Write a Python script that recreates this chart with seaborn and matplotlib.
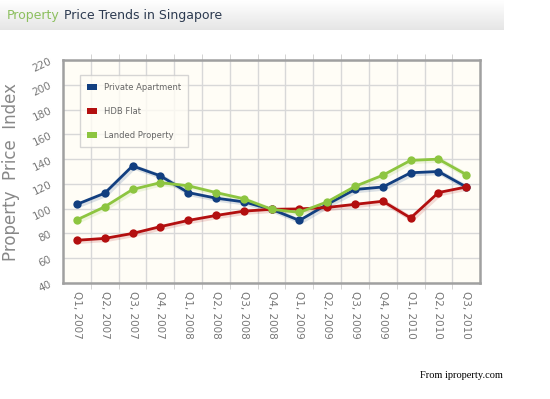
import numpy as np
import pandas as pd
import seaborn as sns
import matplotlib.pyplot as plt
from matplotlib.patches import Patch

# quarters on the x axis
quarters = ['Q1, 2007', 'Q2, 2007', 'Q3, 2007', 'Q4, 2007',
            'Q1, 2008', 'Q2, 2008', 'Q3, 2008', 'Q4, 2008',
            'Q1, 2009', 'Q2, 2009', 'Q3, 2009', 'Q4, 2009',
            'Q1, 2010', 'Q2, 2010', 'Q3, 2010']

private_apartment = [103.5, 112.5, 134.5, 126.5, 113, 108.5, 105.5, 99.5,
                     90.5, 103.5, 115.5, 117.5, 129, 130, 117.5]
hdb_flat = [74.5, 76, 80, 85.5, 90.5, 94.5, 98, 99.5,
            99.8, 101, 103.5, 106, 92.5, 113, 117.5]
landed_property = [91, 101.5, 115.5, 121, 118.5, 113, 108, 99.5,
                   97, 105.5, 118, 127, 139, 140, 127.5]

series_names = ['Private Apartment', 'HDB Flat', 'Landed Property']
colors = ['#123f80', '#b30f0f', '#8dc540']

df = pd.DataFrame({'quarter': quarters * 3,
                   'pos': list(range(len(quarters))) * 3,
                   'index': private_apartment + hdb_flat + landed_property,
                   'series': np.repeat(series_names, len(quarters))})

sns.set_style('white')
plt.rcParams['font.family'] = ['DejaVu Sans']

fig = plt.figure(figsize=(5.5, 3.99), dpi=100)
fig.patch.set_facecolor('white')

# header bar: white fading to light grey
hdr = fig.add_axes([0, 0.925, 0.915, 0.075])
shade = np.linspace(1.0, 0.9, 50)
grad = np.dstack([shade, shade, shade]).reshape(50, 1, 3)
hdr.imshow(grad, aspect='auto', extent=[0, 1, 0, 1])
hdr.set_axis_off()

t1 = fig.text(0.012, 0.96, 'Property', color='#8cbf5e', fontsize=9, va='center')
fig.canvas.draw()
bb = t1.get_window_extent().transformed(fig.transFigure.inverted())
fig.text(bb.x1 + 0.008, 0.96, 'Price Trends in Singapore', color='#2c3a50',
         fontsize=9, va='center')

ax = fig.add_axes([0.1145, 0.2907, 0.7585, 0.5589])
ax.set_facecolor('#fffdf6')

# soft shadow under each line
for name, c in zip(series_names, colors):
    sub = df[df['series'] == name]
    ax.plot(sub['pos'] + 0.06, sub['index'] - 1.0, color=c, alpha=0.15, lw=3.5, zorder=2)

sns.lineplot(data=df, x='pos', y='index', hue='series', palette=colors,
             marker='o', markersize=6, markeredgewidth=0, lw=2, ax=ax,
             legend=False, zorder=3)

ax.set_xlim(-0.5, len(quarters) - 0.5)
ax.set_ylim(40, 220)
ax.set_xticks(range(len(quarters)))
ax.set_xticklabels(quarters, rotation=-90, fontsize=7.5, color='#777777')
ax.set_xticks(np.arange(0.5, len(quarters) - 0.5, 1), minor=True)
ax.set_yticks(range(40, 221, 20))
ax.set_yticklabels([str(v) for v in range(40, 221, 20)], rotation=25,
                   fontsize=7.5, color='#777777')
ax.tick_params(axis='x', which='major', length=0, pad=6)
ax.tick_params(axis='x', which='minor', length=4, color='#cccccc', top=True, bottom=True)
ax.tick_params(axis='y', which='major', length=4, color='#cccccc', pad=3)
ax.grid(True, which='minor', axis='x', color='#d8d8d8', lw=1)
ax.grid(True, which='major', axis='y', color='#d8d8d8', lw=1)
ax.set_axisbelow(True)
for s in ax.spines.values():
    s.set_color('#a0a0a0')
    s.set_linewidth(1.8)

ax.set_xlabel('')
ax.set_ylabel('Property  Price  Index', fontsize=12, color='#888888', labelpad=8)

handles = [Patch(facecolor=c, edgecolor='none') for c in colors]
leg = ax.legend(handles, series_names, loc='upper left', bbox_to_anchor=(0.03, 0.95),
                fontsize=6, labelcolor='#666666', frameon=True, fancybox=False,
                handlelength=1.2, handleheight=0.7, labelspacing=1.8,
                borderpad=0.9, edgecolor='#cccccc')
leg.get_frame().set_facecolor('#fffdf6')

fig.text(0.763, 0.052, 'From iproperty.com', fontsize=7.5, family='Liberation Serif', color='black')

fig.savefig('out.png', dpi=100)
